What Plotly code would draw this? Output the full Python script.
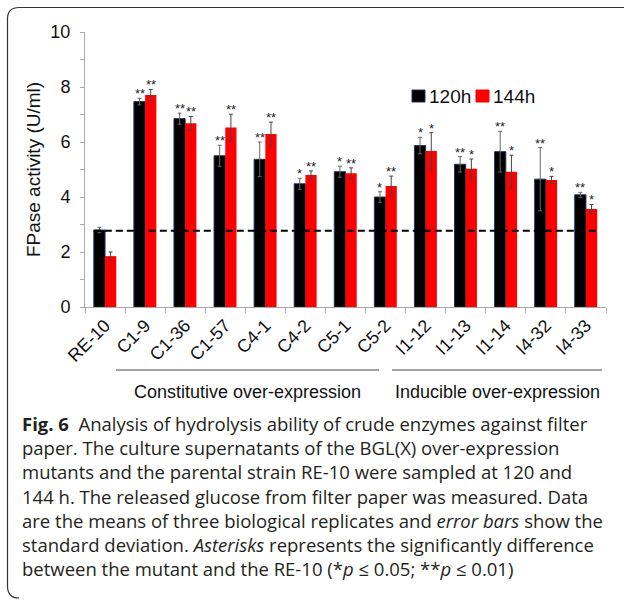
import plotly.graph_objects as go

# strains and FPase activity (U/ml)
strains = ["RE-10", "C1-9", "C1-36", "C1-57", "C4-1", "C4-2", "C5-1", "C5-2",
           "I1-12", "I1-13", "I1-14", "I4-32", "I4-33"]
mean_120h = [2.80, 7.47, 6.85, 5.50, 5.37, 4.48, 4.92, 4.00, 5.87, 5.19, 5.65, 4.65, 4.08]
sd_120h = [0.10, 0.12, 0.20, 0.38, 0.63, 0.20, 0.20, 0.19, 0.30, 0.28, 0.74, 1.15, 0.09]
mean_144h = [1.85, 7.71, 6.68, 6.53, 6.29, 4.80, 4.86, 4.40, 5.67, 5.03, 4.92, 4.62, 3.56]
sd_144h = [0.15, 0.20, 0.25, 0.48, 0.43, 0.15, 0.20, 0.36, 0.67, 0.35, 0.60, 0.13, 0.17]
sig_120h = ["", "**", "**", "**", "**", "*", "*", "*", "*", "**", "**", "**", "**"]
sig_144h = ["", "**", "**", "**", "**", "**", "**", "**", "*", "*", "*", "*", "*"]
baseline = 2.77  # dashed reference line (RE-10)

series = ["120h", "144h"]
groups = ["Constitutive over-expression", "Inducible over-expression"]

caption = [
    "<b>Fig. 6</b>  Analysis of hydrolysis ability of crude enzymes against filter",
    "paper. The culture supernatants of the BGL(X) over-expression",
    "mutants and the parental strain RE-10 were sampled at 120 and",
    "144 h. The released glucose from filter paper was measured. Data",
    "are the means of three biological replicates and <i>error bars</i> show the",
    "standard deviation. <i>Asterisks</i> represents the significantly difference",
    "between the mutant and the RE-10 (*<i>p</i> \u2264 0.05; **<i>p</i> \u2264 0.01)",
]

W, H = 624, 602
L, R, T, B = 85, 606, 32, 307  # plot area in pixels


def px(x):
    return (x - L) / (R - L)


def py(y):
    return (B - y) / (B - T)


xs = list(range(len(strains)))
bw = 0.28
sans = "Liberation Sans, Arial"
axis_font = dict(family=sans, size=18, color="#111")
colors = ["black", "#ff0000"]

fig = go.Figure()
fig.add_trace(go.Bar(
    x=xs, y=mean_120h, name=series[0], width=bw, offset=-bw,
    marker=dict(color=colors[0], line=dict(color="#2a3550", width=1)),
    error_y=dict(type="data", array=sd_120h, color="#666", thickness=1, width=2),
))
fig.add_trace(go.Bar(
    x=xs, y=mean_144h, name=series[1], width=bw, offset=0,
    marker=dict(color=colors[1], line=dict(width=0)),
    error_y=dict(type="data", array=sd_144h, color="#444", thickness=1, width=2),
))

annotations = []
for i in xs:
    for s, m, e, dx in ((sig_120h[i], mean_120h[i], sd_120h[i], -bw / 2),
                        (sig_144h[i], mean_144h[i], sd_144h[i], bw / 2)):
        if s:
            annotations.append(dict(
                x=i + dx, y=m + e, xref="x", yref="y", text=s, showarrow=False,
                yanchor="bottom", yshift=-5,
                font=dict(family=sans, size=13, color="#222")))

# group labels under the x axis
for txt, x0, x1 in ((groups[0], 116, 379), (groups[1], 392, 602)):
    annotations.append(dict(
        x=px((x0 + x1) / 2), y=py(392), xref="paper", yref="paper", text=txt,
        showarrow=False, xanchor="center", yanchor="middle",
        font=dict(family=sans, size=18, color="#111")))

# caption lines
for k, line in enumerate(caption):
    annotations.append(dict(
        x=px(20), y=py(423.5 + 24.2 * k), xref="paper", yref="paper", text=line,
        showarrow=False, xanchor="left", yanchor="middle", align="left",
        font=dict(family="Open Sans", size=18.5, color="#231f20")))

shapes = [
    dict(type="line", xref="x", yref="y", x0=-bw, x1=len(strains) - 1 + bw,
         y0=baseline, y1=baseline, line=dict(color="black", width=2, dash="7px,4px")),
    dict(type="line", xref="paper", yref="paper", x0=px(116), x1=px(379),
         y0=py(370), y1=py(370), line=dict(color="#444", width=1)),
    dict(type="line", xref="paper", yref="paper", x0=px(392), x1=px(602),
         y0=py(370), y1=py(370), line=dict(color="#444", width=1)),
    # outer frame of the figure panel
    dict(type="path", xref="paper", yref="paper",
         path=(f"M {px(19)},{py(598)} Q {px(7.5)},{py(598)} {px(7.5)},{py(586)} "
               f"L {px(7.5)},{py(19)} Q {px(7.5)},{py(7.5)} {px(19)},{py(7.5)} "
               f"L {px(624)},{py(7.5)}"),
         line=dict(color="#333", width=1.2)),
]

# legend: coloured square + series name, laid out like the original
for name, col, sx in zip(series, colors, (412, 476)):
    shapes.append(dict(type="rect", xref="paper", yref="paper",
                       x0=px(sx), x1=px(sx + 13), y0=py(102), y1=py(90),
                       fillcolor=col, line=dict(color="#2a3550" if col == "black" else col, width=1)))
    annotations.append(dict(
        x=px(sx + 15), y=py(96), xref="paper", yref="paper", text=name,
        showarrow=False, xanchor="left", yanchor="middle",
        font=dict(family=sans, size=19, color="#111")))

fig.update_layout(
    width=W, height=H,
    margin=dict(l=L, r=W - R, t=T, b=H - B, autoexpand=False),
    paper_bgcolor="white", plot_bgcolor="white",
    barmode="overlay",
    showlegend=False,
    annotations=annotations,
    shapes=shapes,
    xaxis=dict(
        range=[-0.5, len(strains) - 0.5], tickmode="array", tickvals=xs, ticktext=strains,
        tickangle=-45, ticks="", showgrid=False, zeroline=False, automargin=False,
        showline=True, linecolor="#aaa", linewidth=1, tickfont=axis_font,
        minor=dict(tickmode="linear", tick0=-0.5, dtick=1, ticks="outside",
                   ticklen=5, tickcolor="#aaa", showgrid=False),
    ),
    yaxis=dict(
        range=[0, 10], dtick=2, ticks="outside", ticklen=4, tickcolor="#aaa",
        showgrid=False, zeroline=False, showline=True, linecolor="#aaa", linewidth=1,
        tickfont=axis_font, ticklabelstandoff=6, automargin=False,
        minor=dict(dtick=1, ticks="outside", ticklen=4, tickcolor="#aaa", showgrid=False),
        title=dict(text="FPase activity (U/ml)", font=dict(family=sans, size=19, color="#111"),
                   standoff=4),
    ),
)

# drop the browser's default body margin so the figure sits at the page origin
fig.write_html("out.html", config={"displayModeBar": False},
               post_script="document.body.style.margin='0';")
